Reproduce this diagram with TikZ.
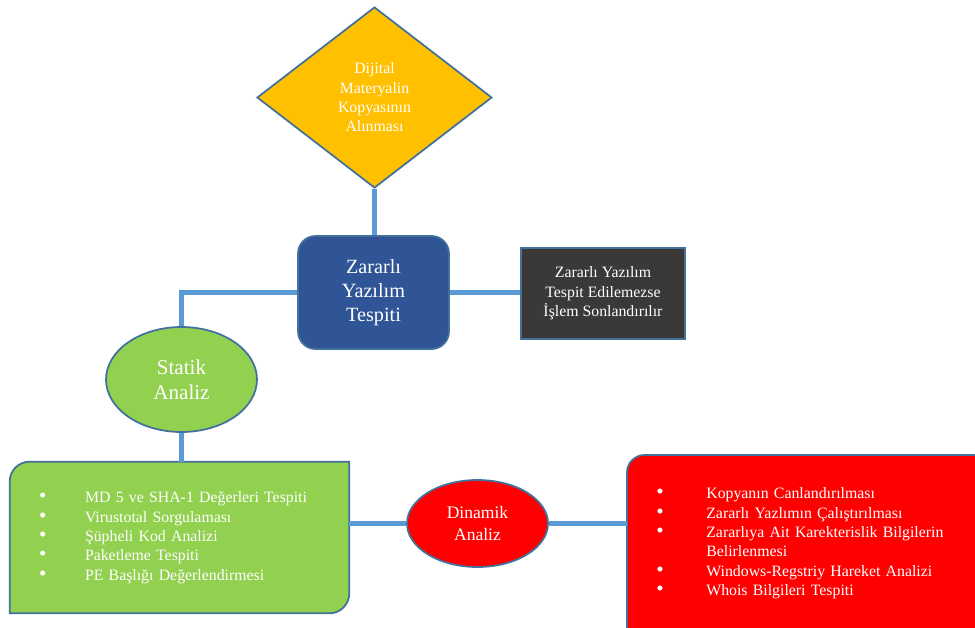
\documentclass[tikz,border=0pt]{standalone}
\usepackage{fontspec}
\setmainfont{Liberation Serif}
\usepackage{tikz}
\usetikzlibrary{positioning,shapes.geometric,backgrounds,calc}
\definecolor{dgold}{HTML}{FFC000}
\definecolor{zblue}{HTML}{2F5597}
\definecolor{dgray}{HTML}{3B3838}
\definecolor{stgreen}{HTML}{92D050}
\definecolor{dnred}{HTML}{FF0000}
\definecolor{linkblue}{HTML}{5B9BD5}
\definecolor{edgeblue}{HTML}{41719C}
\newcommand\lbul{{\fontsize{12}{11}\selectfont\textbullet}}

\begin{document}
\begin{tikzpicture}[
  x=0.02cm,y=-0.02cm,
  font=\fontsize{9}{11}\selectfont,
  dia/.style={diamond,draw=edgeblue,line width=1pt,fill=dgold,text=white,
              align=center,minimum width=4.7cm,minimum height=3.62cm,inner sep=0pt},
  box/.style={draw=edgeblue,line width=1pt,text=white,align=center,inner sep=2pt},
  ell/.style={ellipse,draw=edgeblue,line width=1pt,text=white,align=center,inner sep=0pt},
  lst/.style={text=white,align=left,inner ysep=0pt,inner xsep=0.58cm},
  shp/.style={draw=edgeblue,line width=1pt},
  conn/.style={draw=linkblue,line width=2.3pt},
]
\useasboundingbox (0,0) rectangle (975,627);

% Top of the flow
\node[dia] (dig) at (374.5,97.5) {Dijital\\Materyalin\\Kopyasının\\Alınması};
\node[box,fill=zblue,rounded corners=0.35cm,minimum width=3.02cm,minimum height=2.26cm,
      font=\fontsize{11.5}{13.6}\selectfont] (zyt) at (373.5,292.5) {Zararlı\\Yazılım\\Tespiti};
\node[box,fill=dgray,minimum width=3.28cm,minimum height=1.82cm] (son) at (603,293.5)
     {Zararlı Yazılım\\Tespit Edilemezse\\İşlem Sonlandırılır};

% Analysis branches
\node[ell,fill=stgreen,minimum width=3.02cm,minimum height=2.1cm,
      font=\fontsize{12}{14.2}\selectfont] (stat) at (181.5,379.5) {Statik\\Analiz};
\node[ell,fill=dnred,minimum width=2.82cm,minimum height=1.74cm,
      font=\fontsize{10}{12.3}\selectfont] (din) at (477.5,523.5) {Dinamik\\Analiz};

% Bullet lists
\node[lst,text width=5.62cm,minimum height=3.02cm] (sbox) at (179.5,537.5)
{\begin{tabular}{@{}p{0.92cm}@{}l@{}}
\lbul & MD 5 ve SHA-1 Değerleri Tespiti\\
\lbul & Virustotal Sorgulaması\\
\lbul & Şüpheli Kod Analizi\\
\lbul & Paketleme Tespiti\\
\lbul & PE Başlığı Değerlendirmesi
\end{tabular}};
\node[lst,anchor=north west,text width=6.34cm,minimum height=3.52cm] (rbox) at (627,455)
{\begin{tabular}{@{}p{1cm}@{}l@{}}
\lbul & Kopyanın Canlandırılması\\
\lbul & Zararlı Yazlımın Çalıştırılması\\
\lbul & Zararlıya Ait Karekterislik Bilgilerin\\
 & Belirlenmesi\\
\lbul & Windows-Regstriy Hareket Analizi\\
\lbul & Whois Bilgileri Tespiti
\end{tabular}};

\begin{scope}[on background layer]
  \draw[shp,fill=stgreen] (sbox.south west) [rounded corners=0.4cm] -- (sbox.north west)
        [sharp corners] -- (sbox.north east) [rounded corners=0.4cm] -- (sbox.south east)
        [sharp corners] -- cycle;
  \draw[shp,fill=dnred] (rbox.south west) [rounded corners=0.35cm] -- (rbox.north west)
        [sharp corners] -- (rbox.north east) -- (rbox.south east) -- cycle;
\end{scope}

% Connectors
\draw[conn] (dig.south) -- (dig.south |- zyt.north);
\draw[conn] (zyt.east) -- (zyt.east -| son.west);
\draw[conn] (zyt.west) -| (stat.north);
\draw[conn] (stat.south) -- (stat.south |- sbox.north);
\draw[conn] (sbox.east |- din.west) -- (din.west);
\draw[conn] (din.east) -- (din.east -| rbox.west);
\end{tikzpicture}
\end{document}
